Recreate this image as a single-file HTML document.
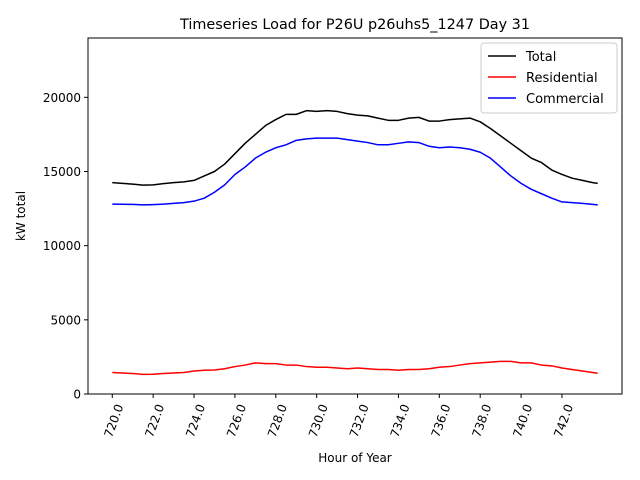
<!DOCTYPE html>
<html><head><meta charset="utf-8"><style>
body{margin:0;background:#fff}
svg{display:block;font-family:"DejaVu Sans","Liberation Sans",sans-serif}
</style></head><body>
<svg id="chart" width="640" height="480" viewBox="0 0 640 480">
<rect width="640" height="480" fill="#fff"/>
<text x="355" y="29" font-size="14.4" text-anchor="middle">Timeseries Load for P26U p26uhs5_1247  Day 31</text>
<g id="grid"></g>
<g id="series"></g>
<rect x="88" y="38" width="534" height="356" fill="none" stroke="#000" stroke-width="1"/>
<g id="axes"></g>
<text x="355" y="462" font-size="12" text-anchor="middle">Hour of Year</text>
<text x="25" y="216" font-size="12" text-anchor="middle" transform="rotate(-90 25 216)">kW total</text>
<g>
<rect x="481" y="43" width="136" height="70" rx="3" fill="#fff" fill-opacity="0.8" stroke="#ccc"/>
<g><line x1="488" x2="516" y1="56" y2="56" stroke="#000" stroke-width="1.5"/><text x="526" y="61" font-size="13">Total</text></g>
<g><line x1="488" x2="516" y1="77" y2="77" stroke="red" stroke-width="1.5"/><text x="526" y="82" font-size="13">Residential</text></g>
<g><line x1="488" x2="516" y1="98" y2="98" stroke="blue" stroke-width="1.5"/><text x="526" y="103" font-size="13">Commercial</text></g>
</g>
</svg>
<script>
const hours=[720,720.5,721,721.5,722,722.5,723,723.5,724,724.5,725,725.5,726,726.5,727,727.5,728,728.5,729,729.5,730,730.5,731,731.5,732,732.5,733,733.5,734,734.5,735,735.5,736,736.5,737,737.5,738,738.5,739,739.5,740,740.5,741,741.5,742,742.5,743,743.5,743.75];
const total=[14250,14200,14150,14080,14100,14180,14250,14300,14400,14700,15000,15500,16200,16900,17500,18100,18500,18850,18850,19100,19050,19100,19050,18900,18800,18750,18600,18450,18450,18600,18650,18400,18400,18500,18550,18600,18350,17900,17400,16900,16400,15900,15600,15100,14800,14550,14400,14250,14200];
const commercial=[12800,12790,12780,12750,12770,12800,12850,12900,13000,13200,13600,14100,14800,15300,15900,16300,16600,16800,17100,17200,17250,17250,17250,17150,17050,16950,16800,16800,16900,17000,16950,16700,16600,16650,16600,16500,16300,15900,15300,14700,14200,13800,13500,13200,12950,12900,12850,12780,12750];
const residential=[1450,1420,1380,1320,1330,1380,1420,1450,1550,1600,1620,1700,1850,1950,2100,2050,2050,1950,1950,1850,1800,1800,1750,1700,1750,1700,1650,1650,1600,1650,1650,1700,1800,1850,1950,2050,2100,2150,2200,2200,2100,2100,1950,1900,1750,1650,1550,1450,1400];
const xTicks=[720,722,724,726,728,730,732,734,736,738,740,742];
const yTicks=[0,5000,10000,15000,20000];
const X0=88,X1=622,Y0=394,Y1=38;
const xMin=718.8125,xMax=744.9375,yMin=0,yMax=24000;
const sx=v=>X0+(v-xMin)/(xMax-xMin)*(X1-X0);
const sy=v=>Y0-(v-yMin)/(yMax-yMin)*(Y0-Y1);
const NS='http://www.w3.org/2000/svg';
const axes=document.getElementById('axes');
const ser=document.getElementById('series');
function mk(tag,attrs){const e=document.createElementNS(NS,tag);for(const k in attrs)e.setAttribute(k,attrs[k]);return e;}
xTicks.forEach(t=>{
 const x=sx(t);
 const tk=mk('line',{x1:x,x2:x,y1:Y0,y2:Y0+4,stroke:'#000'});
 
 
 axes.appendChild(tk);
 const lb=mk('text',{x:x+3,y:Y0+9,'font-size':12,'text-anchor':'end',transform:`rotate(-70 ${x+3} ${Y0+9})`,'dominant-baseline':'hanging'});
 lb.textContent=t.toFixed(1);
 
 
 axes.appendChild(lb);
});
yTicks.forEach(t=>{
 const y=sy(t);
 const tk=mk('line',{x1:X0-4,x2:X0,y1:y,y2:y,stroke:'#000'});
 
 
 axes.appendChild(tk);
 const lb=mk('text',{x:X0-7,y:y+4.5,'font-size':12,'text-anchor':'end'});
 lb.textContent=String(t);
 
 
 axes.appendChild(lb);
});
function line(vals,color,name){
 const d=vals.map((v,i)=>(i?'L':'M')+sx(hours[i]).toFixed(2)+' '+sy(v).toFixed(2)).join(' ');
 const p=mk('path',{d:d,fill:'none',stroke:color,'stroke-width':1.5,'stroke-linejoin':'round'});
 
 
 ser.appendChild(p);
}
line(total,'#000','total-line');
line(residential,'red','residential-line');
line(commercial,'blue','commercial-line');
</script>
</body></html>
